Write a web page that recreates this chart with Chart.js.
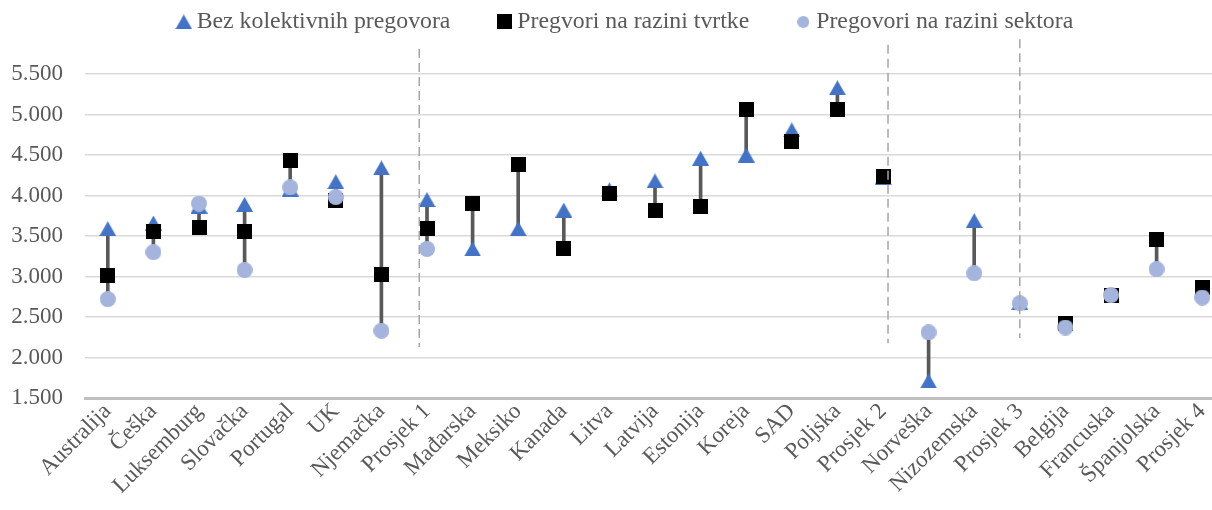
<!DOCTYPE html>
<html>
<head>
<meta charset="utf-8">
<script src="https://cdn.jsdelivr.net/npm/chart.js@4.4.1/dist/chart.umd.min.js"></script>
<style>
  html, body { margin: 0; padding: 0; background: #fff; overflow: hidden; }
</style>
</head>
<body>
<canvas id="chart" width="1234" height="510"></canvas>
<script>
// Categories (countries and group averages)
const categories = ['Australija', 'Češka', 'Luksemburg', 'Slovačka', 'Portugal', 'UK', 'Njemačka', 'Prosjek 1',
  'Mađarska', 'Meksiko', 'Kanada', 'Litva', 'Latvija', 'Estonija', 'Koreja', 'SAD', 'Poljska', 'Prosjek 2',
  'Norveška', 'Nizozemska', 'Prosjek 3', 'Belgija', 'Francuska', 'Španjolska', 'Prosjek 4'];

// Series values
const bezPregovora = [3590, 3660, 3870, 3890, 4080, 4170, 4340, 3950, 3340, 3590, 3820, 4070, 4180, 4460, 4500, 4810, 5330, 4220,
  1710, 3690, 2680, null, null, null, null];
const razinaTvrtke = [3010, 3550, 3600, 3560, 4430, 3940, 3020, 3590, 3900, 4380, 3350, 4030, 3820, 3870, 5060, 4670, 5060, 4240,
  null, null, null, 2420, 2770, 3460, 2870];
const razinaSektora = [2720, 3300, 3900, 3080, 4100, 3980, 2330, 3340, null, null, null, null, null, null, null, null, null, null,
  2310, 3040, 2670, 2370, 2770, 3090, 2740];

// Y axis ticks
const yTicks = [1500, 2000, 2500, 3000, 3500, 4000, 4500, 5000, 5500];

// Group separators: category position, value range
const separatorAt = [6.83, 17.11, 20.0];
const separatorFrom = [2130, 2175, 2240];
const separatorTo = [5810, 5860, 5930];

// high-low line for each category (min..max of available values)
const highLow = categories.map((_, i) => {
  const vals = [bezPregovora[i], razinaTvrtke[i], razinaSektora[i]].filter(v => v !== null);
  return [Math.min(...vals), Math.max(...vals)];
});

const serif = "'Liberation Serif', 'Times New Roman', serif";

// excel-like markers, centred on their bounding box
function makeMarker(shape, w, h, color) {
  const c = document.createElement('canvas');
  c.width = w;
  c.height = h;
  const g = c.getContext('2d');
  g.fillStyle = color;
  g.beginPath();
  if (shape === 'triangle') {
    g.moveTo(w / 2, 0);
    g.lineTo(w, h);
    g.lineTo(0, h);
    g.closePath();
  } else if (shape === 'rect') {
    g.rect(0, 0, w, h);
  } else {
    g.arc(w / 2, h / 2, w / 2, 0, Math.PI * 2);
  }
  g.fill();
  return c;
}

const triMarker = makeMarker('triangle', 17, 15, '#4472c4');
const sqMarker = makeMarker('rect', 15, 15, '#000000');
const circMarker = makeMarker('circle', 16, 16, '#a5b4dc');
const legendMarkers = [triMarker, sqMarker, makeMarker('circle', 12, 12, '#a5b4dc')];

const separators = {
  id: 'separators',
  afterDatasetsDraw(chart) {
    const { ctx, scales: { x, y } } = chart;
    ctx.save();
    ctx.strokeStyle = '#a6a6a6';
    ctx.lineWidth = 1.5;
    ctx.setLineDash([9, 5]);
    separatorAt.forEach((pos, i) => {
      const px = x.getPixelForValue(pos);
      ctx.beginPath();
      ctx.moveTo(px, y.getPixelForValue(separatorTo[i]));
      ctx.lineTo(px, y.getPixelForValue(separatorFrom[i]));
      ctx.stroke();
    });
    ctx.restore();
  }
};

// fixed legend height + nudge the legend row into place
const legendTweak = {
  id: 'legendTweak',
  beforeInit(chart) {
    const legend = chart.legend;
    const fit = legend.fit;
    const draw = legend.draw;
    legend.fit = function () {
      fit.call(this);
      this.height = 74;
    };
    legend.draw = function () {
      const { top, left, right } = this;
      this.top = top - 43;
      this.left = left + 11;
      this.right = right + 11;
      draw.call(this);
      this.top = top;
      this.left = left;
      this.right = right;
    };
  }
};

const ctx = document.getElementById('chart').getContext('2d');
new Chart(ctx, {
  data: {
    labels: categories,
    datasets: [
      {
        type: 'line',
        label: 'Bez kolektivnih pregovora',
        data: bezPregovora,
        showLine: false,
        pointStyle: triMarker,
        pointRadius: 8,
        backgroundColor: '#4472c4',
        borderColor: '#4472c4',
        order: 3
      },
      {
        type: 'line',
        label: 'Pregvori na razini tvrtke',
        data: razinaTvrtke,
        showLine: false,
        pointStyle: sqMarker,
        pointRadius: 8,
        backgroundColor: '#000000',
        borderColor: '#000000',
        order: 2
      },
      {
        type: 'line',
        label: 'Pregovori na razini sektora',
        data: razinaSektora,
        showLine: false,
        pointStyle: circMarker,
        pointRadius: 8,
        backgroundColor: '#a5b4dc',
        borderColor: '#a5b4dc',
        order: 1
      },
      {
        type: 'bar',
        label: 'highlow',
        data: highLow,
        backgroundColor: '#595959',
        barThickness: 3,
        order: 4
      }
    ]
  },
  options: {
    responsive: false,
    animation: false,
    layout: { padding: 0 },
    plugins: {
      legend: {
        position: 'top',
        labels: {
          filter: item => item.datasetIndex < 3,
          sort: (a, b) => a.datasetIndex - b.datasetIndex,
          generateLabels: chart => {
            const items = Chart.defaults.plugins.legend.labels.generateLabels(chart);
            items.forEach(item => {
              if (item.datasetIndex < 3) item.pointStyle = legendMarkers[item.datasetIndex];
            });
            return items;
          },
          usePointStyle: true,
          pointStyleWidth: 2,
          boxHeight: 12,
          padding: 53,
          color: '#595959',
          font: { family: serif, size: 23.8 }
        }
      },
      tooltip: { enabled: false }
    },
    scales: {
      x: {
        offset: true,
        grid: { display: false },
        border: { display: true, color: '#bfbfbf', width: 3 },
        afterFit: scale => { scale.height = 112; },
        ticks: {
          autoSkip: false,
          maxRotation: 45,
          minRotation: 45,
          padding: -8,
          color: '#595959',
          font: { family: serif, size: 23 }
        }
      },
      y: {
        min: 1500,
        max: 5500,
        afterFit: scale => { scale.width = 85; },
        afterBuildTicks: scale => { scale.ticks = yTicks.map(v => ({ value: v })); },
        border: { display: false },
        grid: { color: '#d9d9d9', lineWidth: 1.6, drawTicks: false },
        ticks: {
          padding: 22,
          color: '#595959',
          font: { family: serif, size: 23 },
          callback: v => v.toLocaleString('de-DE')
        }
      }
    }
  },
  plugins: [separators, legendTweak]
});
</script>
</body>
</html>
